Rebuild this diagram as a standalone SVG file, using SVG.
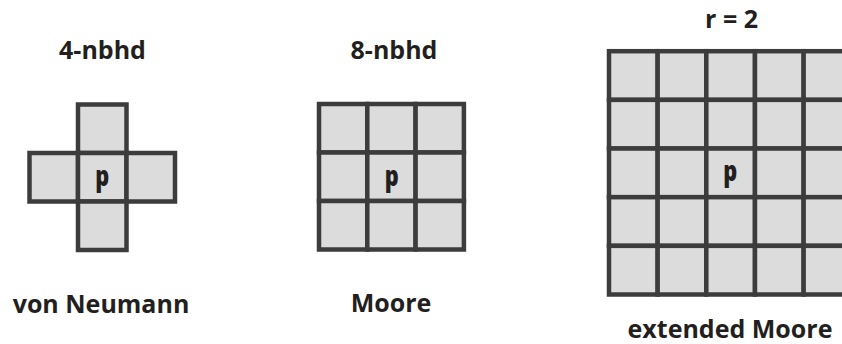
<svg xmlns="http://www.w3.org/2000/svg" width="842" height="344" viewBox="0 0 842 344">
<style>
.cell{fill:#dcdcdd;stroke:#3c3c3c;stroke-width:4.5}
.lbl{font-family:"Open Sans","Liberation Sans",sans-serif;font-weight:bold;font-size:25px;fill:#231f20;text-anchor:middle}
.p{font-family:"Open Sans","Liberation Sans",sans-serif;font-weight:800;font-size:29px;fill:#231f20;text-anchor:middle}
</style>
<rect width="842" height="344" fill="#ffffff"/>
<g id="vonNeumann">
<rect class="cell" x="78" y="104.5" width="48.5" height="48.5"/>
<rect class="cell" x="29.5" y="153" width="48.5" height="48.5"/>
<rect class="cell" x="78" y="153" width="48.5" height="48.5"/>
<rect class="cell" x="126.5" y="153" width="48.5" height="48.5"/>
<rect class="cell" x="78" y="201.5" width="48.5" height="48.5"/>
<text class="p" transform="translate(102.3,186) scale(0.75,1)">p</text>
<text class="lbl" x="102.5" y="59">4-nbhd</text>
<text class="lbl" x="101" y="313">von Neumann</text>
</g>
<g id="moore">
<rect class="cell" x="319" y="104" width="48.3" height="48.5"/>
<rect class="cell" x="367.3" y="104" width="48.3" height="48.5"/>
<rect class="cell" x="415.6" y="104" width="48.3" height="48.5"/>
<rect class="cell" x="319" y="152.5" width="48.3" height="48.5"/>
<rect class="cell" x="367.3" y="152.5" width="48.3" height="48.5"/>
<rect class="cell" x="415.6" y="152.5" width="48.3" height="48.5"/>
<rect class="cell" x="319" y="201" width="48.3" height="48.5"/>
<rect class="cell" x="367.3" y="201" width="48.3" height="48.5"/>
<rect class="cell" x="415.6" y="201" width="48.3" height="48.5"/>
<text class="p" transform="translate(391.8,185.5) scale(0.75,1)">p</text>
<text class="lbl" x="394" y="59">8-nbhd</text>
<text class="lbl" x="391" y="312">Moore</text>
</g>
<g id="extendedMoore">
<g id="grid5">
<rect class="cell" x="609" y="51.2" width="48.66" height="48.66"/>
<rect class="cell" x="657.66" y="51.2" width="48.66" height="48.66"/>
<rect class="cell" x="706.32" y="51.2" width="48.66" height="48.66"/>
<rect class="cell" x="754.98" y="51.2" width="48.66" height="48.66"/>
<rect class="cell" x="803.64" y="51.2" width="48.66" height="48.66"/>
<rect class="cell" x="609" y="99.86" width="48.66" height="48.66"/>
<rect class="cell" x="657.66" y="99.86" width="48.66" height="48.66"/>
<rect class="cell" x="706.32" y="99.86" width="48.66" height="48.66"/>
<rect class="cell" x="754.98" y="99.86" width="48.66" height="48.66"/>
<rect class="cell" x="803.64" y="99.86" width="48.66" height="48.66"/>
<rect class="cell" x="609" y="148.52" width="48.66" height="48.66"/>
<rect class="cell" x="657.66" y="148.52" width="48.66" height="48.66"/>
<rect class="cell" x="706.32" y="148.52" width="48.66" height="48.66"/>
<rect class="cell" x="754.98" y="148.52" width="48.66" height="48.66"/>
<rect class="cell" x="803.64" y="148.52" width="48.66" height="48.66"/>
<rect class="cell" x="609" y="197.18" width="48.66" height="48.66"/>
<rect class="cell" x="657.66" y="197.18" width="48.66" height="48.66"/>
<rect class="cell" x="706.32" y="197.18" width="48.66" height="48.66"/>
<rect class="cell" x="754.98" y="197.18" width="48.66" height="48.66"/>
<rect class="cell" x="803.64" y="197.18" width="48.66" height="48.66"/>
<rect class="cell" x="609" y="245.84" width="48.66" height="48.66"/>
<rect class="cell" x="657.66" y="245.84" width="48.66" height="48.66"/>
<rect class="cell" x="706.32" y="245.84" width="48.66" height="48.66"/>
<rect class="cell" x="754.98" y="245.84" width="48.66" height="48.66"/>
<rect class="cell" x="803.64" y="245.84" width="48.66" height="48.66"/>
</g>
<text class="p" transform="translate(730.3,181) scale(0.75,1)">p</text>
<text class="lbl" x="731.5" y="28">r = 2</text>
<text class="lbl" x="730" y="338">extended Moore</text>
</g>
<g id="connectors"/>
</svg>
